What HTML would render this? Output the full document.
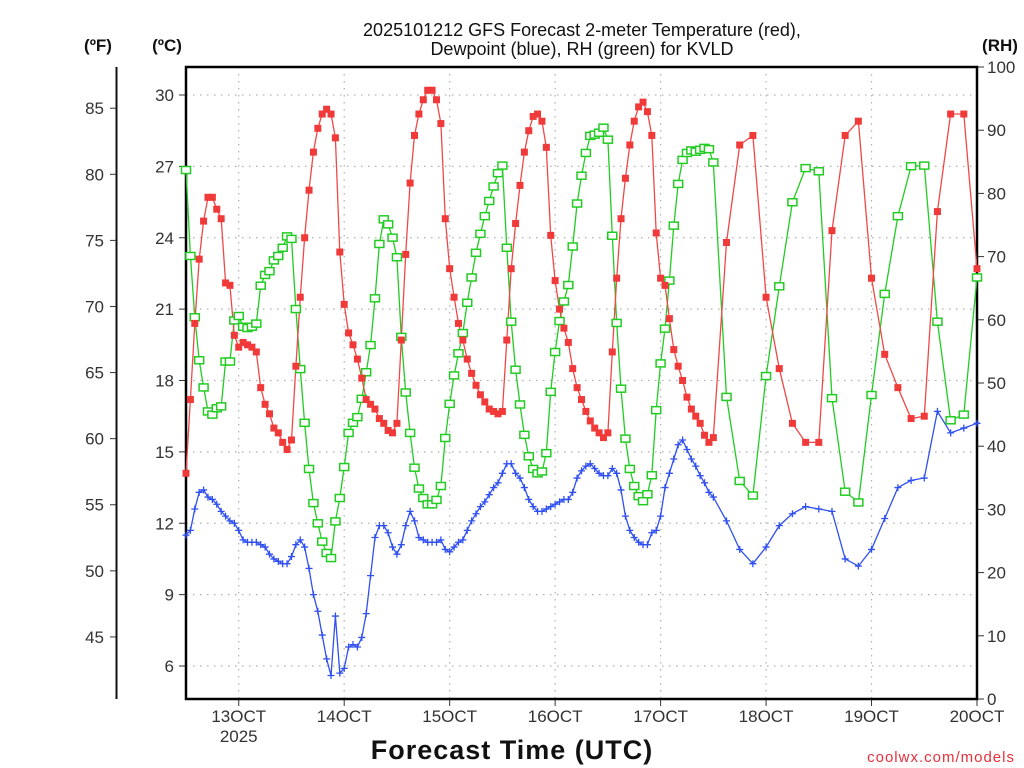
<!DOCTYPE html>
<html><head><meta charset="utf-8">
<style>
html,body{margin:0;padding:0;background:#fff;}
svg{display:block;font-family:"Liberation Sans",sans-serif;}
</style></head>
<body>
<svg id="chart" width="1024" height="768" viewBox="0 0 1024 768" xmlns="http://www.w3.org/2000/svg">
<rect x="0" y="0" width="1024" height="768" fill="#fff"/>
<text x="582" y="36" text-anchor="middle" font-size="18" fill="#111">2025101212 GFS Forecast 2-meter Temperature (red),</text>
<text x="582" y="55" text-anchor="middle" font-size="18" fill="#111">Dewpoint (blue), RH (green) for KVLD</text>
<text x="98" y="51" text-anchor="middle" font-size="17" font-weight="bold" fill="#111">(ºF)</text>
<text x="167" y="51" text-anchor="middle" font-size="17" font-weight="bold" fill="#111">(ºC)</text>
<text x="1000" y="51" text-anchor="middle" font-size="17" font-weight="bold" fill="#111">(RH)</text>
<text x="512" y="759" text-anchor="middle" font-size="27" font-weight="bold" fill="#111" letter-spacing="1">Forecast Time (UTC)</text>
<text x="1015" y="762" text-anchor="end" font-size="15" fill="#e8303a" letter-spacing="1">coolwx.com/models</text>
<g id="grid"></g>
<g id="axes"></g>
<g id="series"></g>
</svg>
<script>
// ---- data ----
var tempHourly = [14.1,17.2,20.4,23.1,24.7,25.7,25.7,25.2,24.8,22.1,22.0,19.9,19.4,19.6,19.5,19.4,19.2,17.7,17.0,16.6,16.0,15.8,15.4,15.1,15.5,18.6,21.5,24.0,26.0,27.6,28.6,29.2,29.4,29.2,28.2,23.4,21.2,20.0,19.5,18.9,18.1,17.2,17.0,16.8,16.4,16.2,15.9,
15.8,16.2,19.7,23.3,26.3,28.3,29.2,29.8,30.2,30.2,29.8,28.8,24.8,22.7,21.5,20.4,19.7,18.9,18.3,17.8,17.4,17.1,16.8,16.7,16.6,16.7,19.7,22.7,24.6,26.2,27.6,28.5,29.1,29.2,28.9,27.8,24.1,22.2,21.0,20.2,19.6,18.5,17.7,17.2,16.7,16.3,
16.0,15.8,15.6,15.8,19.2,22.3,24.8,26.5,27.9,28.9,29.5,29.7,29.3,28.3,24.2,22.3,22.0,20.6,19.3,18.6,18.0,17.3,16.8,16.5,16.2,15.7,15.4,15.6];
var tempLate = [23.8,27.9,28.3,21.5,18.5,16.2,15.4,15.4,24.3,28.3,28.9,22.3,19.1,17.7,16.4,16.5,25.1,29.2,29.2,22.7];
var dewHourly = [11.5,11.7,12.6,13.3,13.4,13.1,13.0,12.8,12.5,12.3,12.1,12.0,11.7,11.3,11.2,11.2,11.2,11.1,11.0,10.7,10.5,10.4,10.3,10.3,10.6,11.1,11.3,11.0,10.1,9.0,8.3,7.3,6.3,5.6,8.1,5.7,5.9,6.8,6.9,6.8,7.2,8.2,9.8,11.4,11.9,11.9,11.6,
11.0,10.7,11.1,11.9,12.5,12.1,11.4,11.3,11.2,11.2,11.2,11.3,10.9,10.8,11.0,11.2,11.3,11.7,12.1,12.4,12.7,12.9,13.2,13.5,13.7,14.1,14.5,14.5,14.1,13.9,13.5,13.0,12.7,12.5,12.5,12.6,12.7,12.8,12.9,13.0,13.0,13.3,13.9,14.2,14.4,14.5,
14.3,14.1,14.0,14.0,14.3,14.1,13.4,12.3,11.7,11.4,11.2,11.1,11.1,11.6,11.7,12.3,13.5,14.1,14.7,15.3,15.5,15.1,14.7,14.4,14.0,13.7,13.3,13.1];
var dewLate = [12.1,10.9,10.3,11.0,11.9,12.4,12.7,12.6,12.5,10.5,10.2,10.9,12.2,13.5,13.8,13.9,16.7,15.8,16.0,16.2];
var rhHourly = [83.7,70.1,60.4,53.6,49.3,45.5,45.0,46.0,46.3,53.4,53.4,59.9,60.6,58.9,58.7,58.9,59.4,65.4,67.1,67.7,69.4,70.1,71.4,73.2,72.8,61.7,52.2,43.7,36.4,31.0,27.8,24.9,23.1,22.3,28.1,31.8,36.7,42.1,43.7,44.6,47.5,51.7,56.0,63.4,72.0,75.9,75.1,
73.0,69.9,57.3,48.5,42.1,36.6,33.3,31.8,30.8,30.8,31.5,33.7,41.3,46.7,51.2,54.7,57.9,62.7,66.7,70.6,73.6,76.4,78.8,81.1,83.2,84.4,71.4,59.7,52.1,46.6,41.8,38.4,36.4,35.7,36.0,38.9,48.6,54.9,59.8,62.9,65.5,71.6,78.4,82.8,86.4,89.1,
89.3,89.6,90.4,88.5,73.3,59.5,49.1,41.2,36.4,33.7,32.1,31.3,32.4,35.4,45.7,53.1,58.6,66.2,74.9,81.5,85.3,86.4,86.8,86.6,86.9,87.2,87.0,84.9];
var rhLate = [47.8,34.5,32.2,51.1,65.3,78.6,84.0,83.5,47.6,32.8,31.1,48.1,64.1,76.4,84.3,84.4,59.7,44.1,45.0,66.7];
var celsiusTicks = [6,9,12,15,18,21,24,27,30];
var fahrenheitTicks = [45,50,55,60,65,70,75,80,85];
var rhTicks = [0,10,20,30,40,50,60,70,80,90,100];
var dayTicks = [12,36,60,84,108,132,156,180];
var dayLabels = ["13OCT","14OCT","15OCT","16OCT","17OCT","18OCT","19OCT","20OCT"];

// forecast hours: hourly to 120, then 3-hourly
var hours = [];
for (var i=0;i<tempHourly.length;i++) hours.push(i);
for (var j=0;j<tempLate.length;j++) hours.push(123+3*j);
var temp = tempHourly.concat(tempLate);
var dew = dewHourly.concat(dewLate);
var rh = rhHourly.concat(rhLate);

// ---- scales ----
var L=186, R=977, T=67, B=699;
function xS(h){ return L + (h/180)*(R-L); }
function yC(c){ return 95 + (30-c)*(571/24); }
function yF(f){ return yC((f-32)*5/9); }
function yR(r){ return B - r*(B-T)/100; }

var NS="http://www.w3.org/2000/svg";
function mk(tag, attrs, parent){
  var e=document.createElementNS(NS,tag);
  for(var k in attrs) e.setAttribute(k, attrs[k]);
  parent.appendChild(e); return e;
}
var grid=document.getElementById('grid'), axes=document.getElementById('axes'), series=document.getElementById('series');

// grid
celsiusTicks.forEach(function(c){
  var g=mk('line',{x1:L,x2:R,y1:yC(c),y2:yC(c),stroke:'#b0b0b0','stroke-width':1.2,'stroke-dasharray':'1.5,5.5'},grid);
  
  
  var t=mk('line',{x1:L-7,x2:L,y1:yC(c),y2:yC(c),stroke:'#333','stroke-width':1},axes);
  
  
  var lb=mk('text',{x:L-12,y:yC(c)+6,'text-anchor':'end','font-size':17,fill:'#333'},axes);
  lb.textContent=c;
  
  
});
dayTicks.forEach(function(h,i){
  var g=mk('line',{x1:xS(h),x2:xS(h),y1:T,y2:B,stroke:'#b0b0b0','stroke-width':1.2,'stroke-dasharray':'1.5,5.5'},grid);
  
  
  var t=mk('line',{x1:xS(h),x2:xS(h),y1:B,y2:B+7,stroke:'#333','stroke-width':1},axes);
  
  
  var lb=mk('text',{x:xS(h),y:B+23,'text-anchor':'middle','font-size':17,fill:'#333'},axes);
  lb.textContent=dayLabels[i];
  
  
});
var yr=mk('text',{x:xS(12),y:B+43,'text-anchor':'middle','font-size':17,fill:'#333'},axes);
yr.textContent='2025';



// F axis
var fl=mk('line',{x1:116.5,x2:116.5,y1:T,y2:B,stroke:'#111','stroke-width':2},axes);


fahrenheitTicks.forEach(function(f){
  var t=mk('line',{x1:110,x2:116,y1:yF(f),y2:yF(f),stroke:'#333','stroke-width':1},axes);
  
  
  var lb=mk('text',{x:104,y:yF(f)+6,'text-anchor':'end','font-size':17,fill:'#333'},axes);
  lb.textContent=f;
  
  
});
// RH axis
rhTicks.forEach(function(r){
  var t=mk('line',{x1:R,x2:R+7,y1:yR(r),y2:yR(r),stroke:'#333','stroke-width':1},axes);
  
  
  var lb=mk('text',{x:R+10,y:yR(r)+6,'text-anchor':'start','font-size':17,fill:'#333'},axes);
  lb.textContent=r;
  
  
});
var fr=mk('rect',{x:L,y:T,width:R-L,height:B-T,fill:'none',stroke:'#000','stroke-width':2.5},axes);



// series
function poly(vals, yfn, color, name){
  var pts=hours.map(function(h,i){return xS(h).toFixed(1)+','+yfn(vals[i]).toFixed(1);}).join(' ');
  var p=mk('polyline',{points:pts,fill:'none',stroke:color,'stroke-width':1.3},series);
  
  
}
poly(rh,yR,'#22cc22','rh-line');
poly(temp,yC,'#f04848','temperature-line');
poly(dew,yC,'#3050f0','dewpoint-line');

hours.forEach(function(h,i){
  var x=xS(h), y=yR(rh[i]);
  var m=mk('rect',{x:x-4.5,y:y-3.5,width:9,height:7,fill:'#fff',stroke:'#22cc22','stroke-width':1.5},series);
  
  
});
hours.forEach(function(h,i){
  var x=xS(h), y=yC(temp[i]);
  var m=mk('rect',{x:x-3.5,y:y-3.5,width:7,height:7,fill:'#f03a3a'},series);
  
  
});
hours.forEach(function(h,i){
  var x=xS(h), y=yC(dew[i]);
  var m=mk('path',{d:'M'+(x-3.5)+','+y+'h7M'+x+','+(y-3.5)+'v7',stroke:'#2f4ff0','stroke-width':1.3,fill:'none'},series);
  
  
});
</script>
</body></html>
